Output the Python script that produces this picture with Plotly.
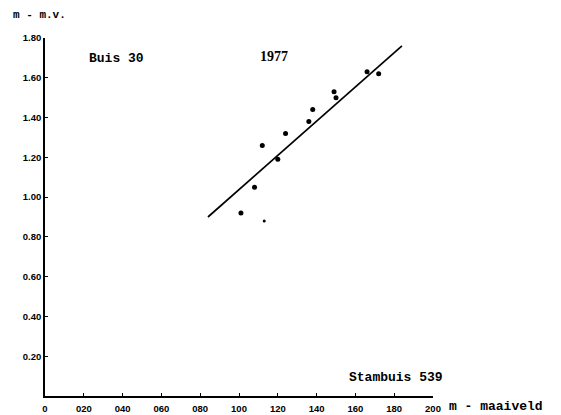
import plotly.graph_objects as go

# Measured groundwater depth pairs (m below surface), tube 30 vs. standpipe 539, 1977
maaiveld = [1.01, 1.08, 1.12, 1.20, 1.24, 1.36, 1.38, 1.49, 1.50, 1.66, 1.72]
mv = [0.92, 1.05, 1.26, 1.19, 1.32, 1.38, 1.44, 1.53, 1.50, 1.63, 1.62]

# Faint extra reading
faint_x = [1.13]
faint_y = [0.88]

# Fitted relation, drawn between its end points
fit_x = [0.84, 1.84]
fit_y = [0.90, 1.76]

x_ticks = [0, 0.2, 0.4, 0.6, 0.8, 1.0, 1.2, 1.4, 1.6, 1.8, 2.0]
x_labels = ["0", "020", "040", "060", "080", "100", "120", "140", "160", "180", "200"]
y_ticks = [0.2, 0.4, 0.6, 0.8, 1.0, 1.2, 1.4, 1.6, 1.8]
y_labels = ["0.20", "0.40", "0.60", "0.80", "1.00", "1.20", "1.40", "1.60", "1.80"]

fig = go.Figure()
fig.add_trace(go.Scatter(x=fit_x, y=fit_y, mode="lines",
                         line=dict(color="black", width=1.7), hoverinfo="skip"))
fig.add_trace(go.Scatter(x=maaiveld, y=mv, mode="markers",
                         marker=dict(color="black", size=5)))
fig.add_trace(go.Scatter(x=faint_x, y=faint_y, mode="markers",
                         marker=dict(color="black", size=3)))

mono = "Liberation Mono"
annots = [
    dict(text="<b>m - m.v.</b>", x=-0.088, y=1.064, size=11, font=mono),
    dict(text="<b>Buis 30</b>", x=0.108, y=0.944, size=13, font=mono),
    dict(text="<b>1977</b>", x=0.548, y=0.947, size=14, font="Liberation Serif"),
    dict(text="<b>Stambuis 539</b>", x=0.778, y=0.053, size=13, font=mono),
    dict(text="<b>m - maaiveld</b>", x=1.035, y=-0.03, size=13, font=mono),
]
for a in annots:
    fig.add_annotation(text=a["text"], x=a["x"], y=a["y"], xref="paper", yref="paper",
                       xanchor="left", yanchor="middle", showarrow=False,
                       font=dict(family=a["font"], size=a["size"], color="black"))

tick_font = dict(family="Liberation Sans", size=9.5, color="black")
fig.update_layout(
    width=561, height=415,
    margin=dict(l=45, r=128, t=38, b=19),
    plot_bgcolor="white", paper_bgcolor="white",
    showlegend=False,
    xaxis=dict(range=[0, 2.0], tickvals=x_ticks, ticktext=[f"<b>{t}</b>" for t in x_labels],
               showgrid=False, zeroline=False, showline=True, linecolor="black",
               linewidth=1.6, ticks="inside", ticklen=3, tickcolor="black",
               ticklabelstandoff=3, automargin=False, tickfont=tick_font),
    yaxis=dict(range=[0, 1.8], tickvals=y_ticks, ticktext=[f"<b>{t}</b>" for t in y_labels],
               showgrid=False, zeroline=False, showline=True, linecolor="black",
               linewidth=1.6, ticks="inside", ticklen=3, tickcolor="black",
               automargin=False, tickfont=tick_font),
)

fig.write_html("out.html")
